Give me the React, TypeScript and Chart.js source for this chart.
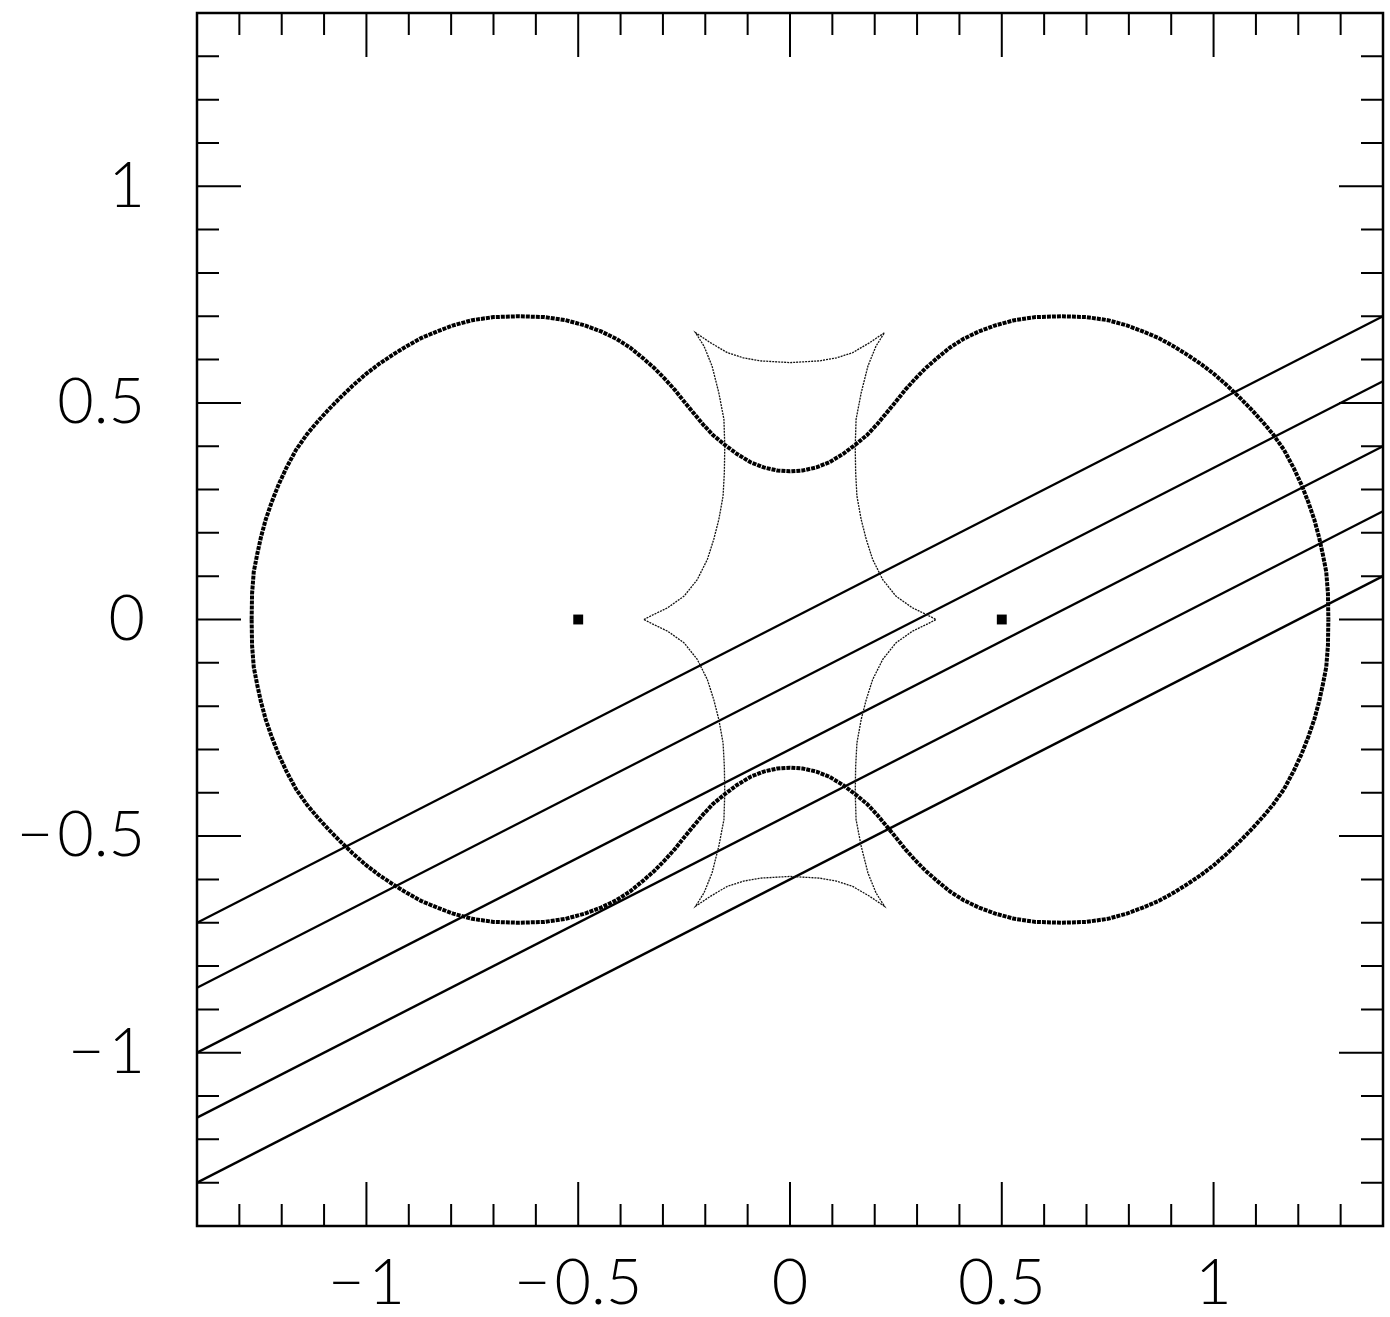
import React, { useEffect, useRef } from 'react';
import { Chart, registerables } from 'chart.js';

Chart.register(...registerables);

// ---- axes ----
const axisMin = -1.4;
const axisMax = 1.4;
const tickValues = [-1, -0.5, 0, 0.5, 1];
const tickLabels = ['\u2212\u200a1', '\u2212\u200a0.5', '0', '0.5', '1'];

// ---- lens positions ----
const lensX = [-0.5, 0.5];
const lensY = [0, 0];

// ---- source trajectories (straight lines across the frame) ----
const trajStartX = [-1.4, -1.4, -1.4, -1.4, -1.4];
const trajStartY = [-0.7, -0.85, -1.0, -1.15, -1.3];
const trajEndX = [1.4, 1.4, 1.4, 1.4, 1.4];
const trajEndY = [0.7, 0.55, 0.4, 0.25, 0.1];

// ---- critical curve, upper half (left to right) ----
const critUpperX = [
  -1.271, -1.270, -1.266, -1.258, -1.249, -1.238, -1.224, -1.208, -1.189, -1.166,
  -1.140, -1.116, -1.090, -1.062, -1.032, -1.002, -0.970, -0.938, -0.905, -0.870,
  -0.833, -0.795, -0.750, -0.700, -0.640, -0.580, -0.530, -0.485, -0.446, -0.410,
  -0.378, -0.348, -0.320, -0.295, -0.272, -0.250, -0.228, -0.205, -0.182, -0.155,
  -0.125, -0.093, -0.062, -0.030, 0.000,
  0.030, 0.062, 0.093, 0.125, 0.155, 0.182, 0.205, 0.228, 0.250, 0.272,
  0.295, 0.320, 0.348, 0.378, 0.410, 0.446, 0.485, 0.530, 0.580, 0.640,
  0.700, 0.750, 0.795, 0.833, 0.870, 0.905, 0.938, 0.970, 1.002, 1.032,
  1.062, 1.090, 1.116, 1.140, 1.166, 1.189, 1.208, 1.224, 1.238, 1.249,
  1.258, 1.266, 1.270, 1.271,
];
const critUpperY = [
  0.000, 0.060, 0.110, 0.150, 0.190, 0.230, 0.270, 0.310, 0.350, 0.392,
  0.428, 0.456, 0.484, 0.512, 0.540, 0.566, 0.590, 0.611, 0.631, 0.650,
  0.665, 0.679, 0.691, 0.698, 0.700, 0.698, 0.691, 0.679, 0.665, 0.648,
  0.628, 0.604, 0.580, 0.555, 0.530, 0.503, 0.477, 0.450, 0.426, 0.404,
  0.382, 0.363, 0.351, 0.344, 0.342,
  0.344, 0.351, 0.363, 0.382, 0.404, 0.426, 0.450, 0.477, 0.503, 0.530,
  0.555, 0.580, 0.604, 0.628, 0.648, 0.665, 0.679, 0.691, 0.698, 0.700,
  0.698, 0.691, 0.679, 0.665, 0.650, 0.631, 0.611, 0.590, 0.566, 0.540,
  0.512, 0.484, 0.456, 0.428, 0.392, 0.350, 0.310, 0.270, 0.230, 0.190,
  0.150, 0.110, 0.060, 0.000,
];

// ---- critical curve, lower half (left to right) ----
const critLowerX = [
  -1.271, -1.270, -1.266, -1.258, -1.249, -1.238, -1.224, -1.208, -1.189, -1.166,
  -1.140, -1.116, -1.090, -1.062, -1.032, -1.002, -0.970, -0.938, -0.905, -0.870,
  -0.833, -0.795, -0.750, -0.700, -0.640, -0.580, -0.530, -0.485, -0.446, -0.410,
  -0.378, -0.348, -0.320, -0.295, -0.272, -0.250, -0.228, -0.205, -0.182, -0.155,
  -0.125, -0.093, -0.062, -0.030, 0.000,
  0.030, 0.062, 0.093, 0.125, 0.155, 0.182, 0.205, 0.228, 0.250, 0.272,
  0.295, 0.320, 0.348, 0.378, 0.410, 0.446, 0.485, 0.530, 0.580, 0.640,
  0.700, 0.750, 0.795, 0.833, 0.870, 0.905, 0.938, 0.970, 1.002, 1.032,
  1.062, 1.090, 1.116, 1.140, 1.166, 1.189, 1.208, 1.224, 1.238, 1.249,
  1.258, 1.266, 1.270, 1.271,
];
const critLowerY = [
  -0.000, -0.060, -0.110, -0.150, -0.190, -0.230, -0.270, -0.310, -0.350, -0.392,
  -0.428, -0.456, -0.484, -0.512, -0.540, -0.566, -0.590, -0.611, -0.631, -0.650,
  -0.665, -0.679, -0.691, -0.698, -0.700, -0.698, -0.691, -0.679, -0.665, -0.648,
  -0.628, -0.604, -0.580, -0.555, -0.530, -0.503, -0.477, -0.450, -0.426, -0.404,
  -0.382, -0.363, -0.351, -0.344, -0.342,
  -0.344, -0.351, -0.363, -0.382, -0.404, -0.426, -0.450, -0.477, -0.503, -0.530,
  -0.555, -0.580, -0.604, -0.628, -0.648, -0.665, -0.679, -0.691, -0.698, -0.700,
  -0.698, -0.691, -0.679, -0.665, -0.650, -0.631, -0.611, -0.590, -0.566, -0.540,
  -0.512, -0.484, -0.456, -0.428, -0.392, -0.350, -0.310, -0.270, -0.230, -0.190,
  -0.150, -0.110, -0.060, -0.000,
];

// ---- caustic (closed loop with six cusps) ----
const causticX = [
  -0.345, -0.325, -0.289, -0.250, -0.219, -0.195, -0.180, -0.168, -0.158, -0.155,
  -0.154, -0.156, -0.168, -0.184, -0.203, -0.223,
  -0.188, -0.148, -0.110, -0.070, 0.000, 0.070, 0.110, 0.148, 0.188, 0.223,
  0.203, 0.184, 0.168, 0.156, 0.154, 0.155, 0.158, 0.168, 0.180, 0.195,
  0.219, 0.250, 0.289, 0.325, 0.345,
  0.325, 0.289, 0.250, 0.219, 0.195, 0.180, 0.168, 0.158, 0.155, 0.154,
  0.156, 0.168, 0.184, 0.203, 0.223,
  0.188, 0.148, 0.110, 0.070, 0.000, -0.070, -0.110, -0.148, -0.188, -0.223,
  -0.203, -0.184, -0.168, -0.156, -0.154, -0.155, -0.158, -0.168, -0.180, -0.195,
  -0.219, -0.250, -0.289, -0.325, -0.345,
];
const causticY = [
  0.000, 0.010, 0.027, 0.054, 0.092, 0.139, 0.185, 0.231, 0.285, 0.339,
  0.400, 0.462, 0.523, 0.585, 0.631, 0.662,
  0.639, 0.616, 0.604, 0.597, 0.593, 0.597, 0.604, 0.616, 0.639, 0.662,
  0.631, 0.585, 0.523, 0.462, 0.400, 0.339, 0.285, 0.231, 0.185, 0.139,
  0.092, 0.054, 0.027, 0.010, 0.000,
  -0.010, -0.027, -0.054, -0.092, -0.139, -0.185, -0.231, -0.285, -0.339, -0.400,
  -0.462, -0.523, -0.585, -0.631, -0.662,
  -0.639, -0.616, -0.604, -0.597, -0.593, -0.597, -0.604, -0.616, -0.639, -0.662,
  -0.631, -0.585, -0.523, -0.462, -0.400, -0.339, -0.285, -0.231, -0.185, -0.139,
  -0.092, -0.054, -0.027, -0.010, 0.000,
];

const zip = (xs: number[], ys: number[]) => xs.map((x, i) => ({ x, y: ys[i] }));

const labelFor = (v: number) => {
  const i = tickValues.findIndex((t) => Math.abs(t - v) < 1e-9);
  return i >= 0 ? tickLabels[i] : '';
};

const FONT = { family: 'Lato, "DejaVu Sans", sans-serif', size: 63, weight: 300 as any };

const frameTicks = {
  id: 'frameTicks',
  afterDatasetsDraw(chart: any) {
    const { ctx, chartArea, scales } = chart;
    const { left, right, top, bottom } = chartArea;
    const xs = scales.x;
    const ys = scales.y;
    ctx.save();
    ctx.strokeStyle = '#000';
    ctx.lineWidth = 2;
    ctx.lineCap = 'butt';
    ctx.beginPath();
    for (let i = -13; i <= 13; i++) {
      const v = i / 10;
      const len = i % 5 === 0 ? 44 : 22;
      const px = xs.getPixelForValue(v);
      const py = ys.getPixelForValue(v);
      ctx.moveTo(px, bottom);
      ctx.lineTo(px, bottom - len);
      ctx.moveTo(px, top);
      ctx.lineTo(px, top + len);
      ctx.moveTo(left, py);
      ctx.lineTo(left + len, py);
      ctx.moveTo(right, py);
      ctx.lineTo(right - len, py);
    }
    ctx.stroke();
    ctx.lineWidth = 2.5;
    ctx.strokeRect(left, top, right - left, bottom - top);
    ctx.restore();
  },
};

export default function App() {
  const ref = useRef<HTMLCanvasElement | null>(null);

  useEffect(() => {
    if (!ref.current) return;
    const critStyle = {
      showLine: true,
      borderColor: '#000',
      borderWidth: 4,
      borderDash: [4, 1],
      pointRadius: 0,
      tension: 0,
    };
    const datasets: any[] = [];
    datasets.push({ data: zip(critUpperX, critUpperY), ...critStyle });
    datasets.push({ data: zip(critLowerX, critLowerY), ...critStyle });
    datasets.push({
      data: zip(causticX, causticY),
      showLine: true,
      borderColor: '#111',
      borderWidth: 1.3,
      borderDash: [2, 1],
      pointRadius: 0,
      tension: 0,
    });
    trajStartX.forEach((sx, i) => {
      datasets.push({
        data: [
          { x: sx, y: trajStartY[i] },
          { x: trajEndX[i], y: trajEndY[i] },
        ],
        showLine: true,
        borderColor: '#000',
        borderWidth: 2.4,
        pointRadius: 0,
        tension: 0,
      });
    });
    datasets.push({
      data: zip(lensX, lensY),
      showLine: false,
      pointStyle: 'rect',
      pointRadius: 7,
      backgroundColor: '#000',
      borderColor: '#000',
      borderWidth: 0,
    });

    const chart = new Chart(ref.current, {
      type: 'scatter',
      data: { datasets },
      options: {
        animation: false,
        responsive: false,
        devicePixelRatio: 1,
        layout: { padding: { top: 13, right: 2, left: 0, bottom: 0 } },
        plugins: { legend: { display: false }, tooltip: { enabled: false } },
        scales: {
          x: {
            type: 'linear',
            min: axisMin,
            max: axisMax,
            afterBuildTicks: (s: any) => {
              s.ticks = tickValues.map((v) => ({ value: v }));
            },
            afterFit: (s: any) => {
              s.height = 91;
              s.paddingLeft = 0;
              s.paddingRight = 0;
              s.paddingTop = 0;
              s.paddingBottom = 0;
            },
            grid: { display: false, drawTicks: false },
            border: { display: false },
            ticks: {
              padding: 20,
              color: '#000',
              font: FONT,
              maxRotation: 0,
              autoSkip: false,
              callback: (v: any) => labelFor(Number(v)),
            },
          },
          y: {
            type: 'linear',
            min: axisMin,
            max: axisMax,
            afterBuildTicks: (s: any) => {
              s.ticks = tickValues.map((v) => ({ value: v }));
            },
            afterFit: (s: any) => {
              s.width = 197;
              s.paddingLeft = 0;
              s.paddingRight = 0;
              s.paddingTop = 0;
              s.paddingBottom = 0;
            },
            grid: { display: false, drawTicks: false },
            border: { display: false },
            ticks: {
              padding: 52,
              color: '#000',
              font: FONT,
              autoSkip: false,
              callback: (v: any) => labelFor(Number(v)),
            },
          },
        },
      },
      plugins: [frameTicks],
    });
    return () => chart.destroy();
  }, []);

  return (
    <div style={{ position: 'absolute', left: 0, top: 0, width: 1390, height: 1317, background: '#fff' }}>
      <canvas ref={ref} width={1390} height={1317} style={{ display: 'block' }} />
    </div>
  );
}
